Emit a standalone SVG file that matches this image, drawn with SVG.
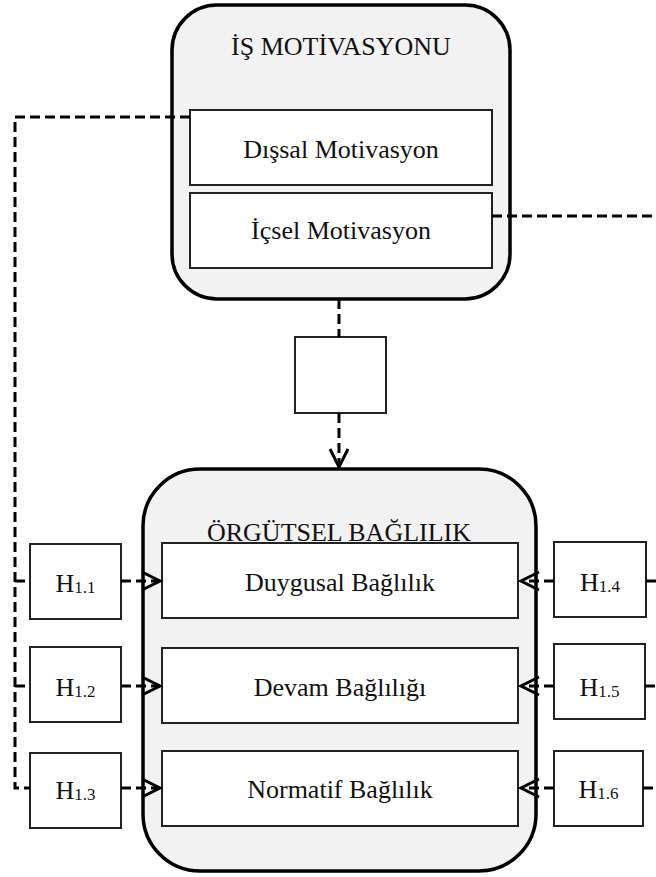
<svg xmlns="http://www.w3.org/2000/svg" width="656" height="877" viewBox="0 0 656 877">
<style>
.outer{fill:#f2f2f2;stroke:#000;stroke-width:3.5}
.inner{fill:#fff;stroke:#222;stroke-width:2}
.t{font-family:"Liberation Serif","Times New Roman",serif;font-size:26px;fill:#111;text-anchor:middle}
.sub{font-size:17px}
.dash{fill:none;stroke:#000;stroke-width:3;stroke-dasharray:10 5}
</style>
<defs>
<marker id="arr" markerUnits="userSpaceOnUse" markerWidth="24" markerHeight="24" viewBox="-20 -12 24 24" refX="0" refY="0" orient="auto">
<path d="M-18,-9 L0,0 L-18,9" fill="none" stroke="#000" stroke-width="3"/>
</marker>
</defs>
<rect width="656" height="877" fill="#fff"/>
<g id="is-motivasyonu">
<rect class="outer" x="172" y="5" width="338" height="294" rx="45" ry="45"/>
<text class="t" x="341" y="55">İŞ MOTİVASYONU</text>
</g>
<g id="dissal">
<rect class="inner" x="190" y="110" width="302" height="75"/>
<text class="t" x="341" y="158">Dışsal Motivasyon</text>
</g>
<g id="icsel">
<rect class="inner" x="190" y="193" width="302" height="75"/>
<text class="t" x="341" y="239">İçsel Motivasyon</text>
</g>
<g id="orgutsel">
<rect class="outer" x="143" y="469" width="393" height="402" rx="57" ry="57"/>
<text class="t" x="339" y="541">ÖRGÜTSEL BAĞLILIK</text>
</g>
<g id="duygusal">
<rect class="inner" x="162" y="543" width="356" height="75"/>
<text class="t" x="340" y="591">Duygusal Bağlılık</text>
</g>
<g id="devam">
<rect class="inner" x="162" y="648" width="356" height="75"/>
<text class="t" x="340" y="696">Devam Bağlılığı</text>
</g>
<g id="normatif">
<rect class="inner" x="162" y="751" width="356" height="75"/>
<text class="t" x="340" y="798">Normatif Bağlılık</text>
</g>
<g id="mediator">
<rect class="inner" x="295" y="337" width="91" height="76"/>
</g>
<g id="h11"><rect class="inner" x="30" y="544" width="91" height="75"/><text class="t" x="75.5" y="592">H<tspan class="sub" dy="1">1.1</tspan></text></g>
<g id="h12"><rect class="inner" x="30" y="647" width="91" height="75"/><text class="t" x="75.5" y="696">H<tspan class="sub" dy="1">1.2</tspan></text></g>
<g id="h13"><rect class="inner" x="30" y="753" width="91" height="75"/><text class="t" x="75.5" y="799">H<tspan class="sub" dy="1">1.3</tspan></text></g>
<g id="h14"><rect class="inner" x="554" y="542" width="92" height="75"/><text class="t" x="600" y="591">H<tspan class="sub" dy="1">1.4</tspan></text></g>
<g id="h15"><rect class="inner" x="554" y="644" width="91" height="75"/><text class="t" x="599.5" y="696">H<tspan class="sub" dy="1">1.5</tspan></text></g>
<g id="h16"><rect class="inner" x="554" y="751" width="89" height="75"/><text class="t" x="598.5" y="798">H<tspan class="sub" dy="1">1.6</tspan></text></g>
<g id="connectors">
<path class="dash" d="M190,117 H15 V788 H30"/>
<path class="dash" d="M15,581 H30"/>
<path class="dash" d="M15,686 H30"/>
<path class="dash" d="M492,216 H656"/>
<path class="dash" d="M339,299 V337"/>
<path class="dash" d="M339,413 V467" marker-end="url(#arr)"/>
<path class="dash" d="M121,581 H160" marker-end="url(#arr)"/>
<path class="dash" d="M121,686 H160" marker-end="url(#arr)"/>
<path class="dash" d="M121,788 H160" marker-end="url(#arr)"/>
<path class="dash" d="M554,581 H521" marker-end="url(#arr)"/>
<path class="dash" d="M554,686 H521" marker-end="url(#arr)"/>
<path class="dash" d="M554,788 H521" marker-end="url(#arr)"/>
<path class="dash" d="M646,581 H656"/>
<path class="dash" d="M645,686 H656"/>
<path class="dash" d="M643,788 H656"/>
</g>
</svg>
